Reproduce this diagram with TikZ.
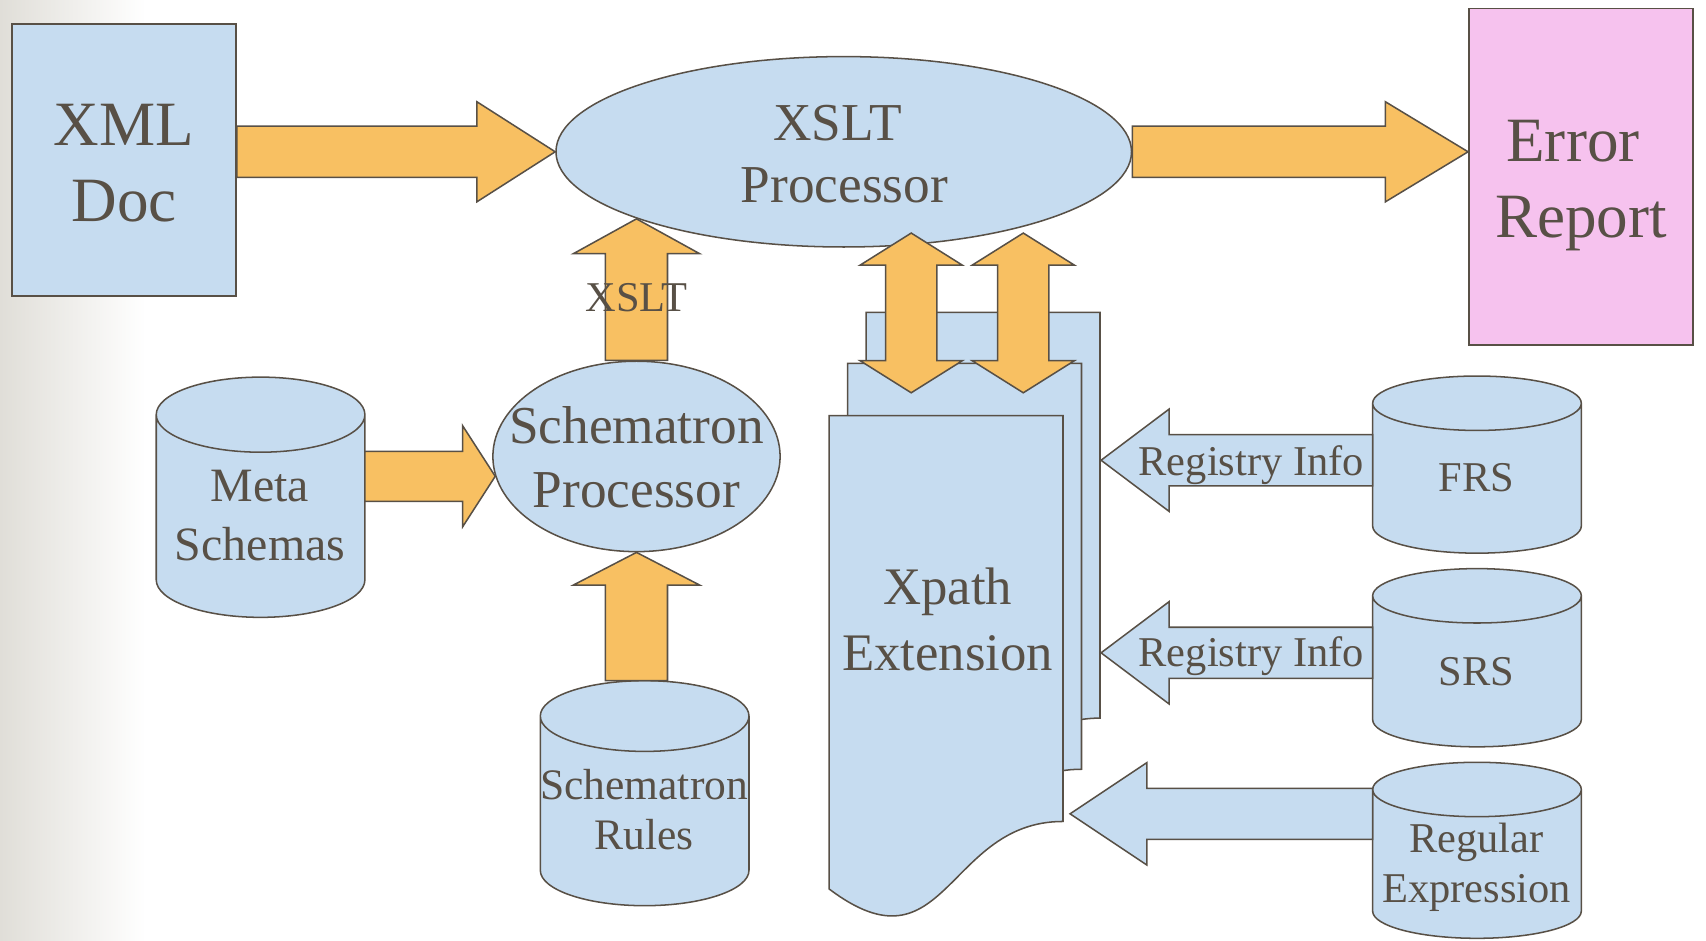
\documentclass[tikz,border=0pt]{standalone}
\usepackage{fontspec}
\setmainfont{Liberation Serif}
\usetikzlibrary{calc,shapes.geometric}

\definecolor{ink}{RGB}{88,80,70}
\definecolor{boxblue}{RGB}{198,220,240}
\definecolor{flow}{RGB}{248,192,98}
\definecolor{errpink}{RGB}{246,194,238}
\definecolor{edgegray}{RGB}{224,222,216}

\newcommand\txtsize[2]{\fontsize{#1}{#2}\selectfont}

\tikzset{
  outline/.style={draw=ink,line width=0.7pt,line join=miter},
  panel/.style={outline,rectangle,inner sep=0pt},
  oval/.style={outline,ellipse,fill=boxblue,inner sep=0pt},
  drum/.style={rectangle,inner sep=0pt},
  drumface/.style={outline,fill=boxblue},
  sheet/.style={outline,fill=boxblue},
  flowarrow/.style={outline,fill=flow},
  infoarrow/.style={outline,fill=boxblue},
  caption/.style={text=ink,inner sep=0pt,align=center},
}

% block arrow: style, tail, tip, half body width, half head width, head length
\newcommand\fatarrow[6]{%
  \path (#2) coordinate (fa-from) (#3) coordinate (fa-to);
  \path ($(fa-to)!#6!(fa-from)$) coordinate (fa-neck);
  \draw[#1] ($(fa-from)!#4!90:(fa-to)$) -- ($(fa-neck)!#4!90:(fa-to)$)
    -- ($(fa-neck)!#5!90:(fa-to)$) -- (fa-to)
    -- ($(fa-neck)!#5!-90:(fa-to)$) -- ($(fa-neck)!#4!-90:(fa-to)$)
    -- ($(fa-from)!#4!-90:(fa-to)$) -- cycle;
}
% two-headed block arrow: style, tip a, tip b, half body, half head, head length
\newcommand\fatdouble[6]{%
  \path (#2) coordinate (fd-a) (#3) coordinate (fd-b);
  \path ($(fd-a)!#6!(fd-b)$) coordinate (fd-na) ($(fd-b)!#6!(fd-a)$) coordinate (fd-nb);
  \draw[#1] (fd-a) -- ($(fd-na)!#5!90:(fd-b)$) -- ($(fd-na)!#4!90:(fd-b)$)
    -- ($(fd-nb)!#4!90:(fd-b)$) -- ($(fd-nb)!#5!90:(fd-b)$) -- (fd-b)
    -- ($(fd-nb)!#5!-90:(fd-b)$) -- ($(fd-nb)!#4!-90:(fd-b)$)
    -- ($(fd-na)!#4!-90:(fd-b)$) -- ($(fd-na)!#5!-90:(fd-b)$) -- cycle;
}
% database drum filling the box of a named node: node, end radius
\newcommand\drumshape[2]{%
  \draw[drumface] let \p1=(#1.north west), \p2=(#1.south east), \n1={(\x2-\x1)/2} in
    (\x1,{\y1-#2}) -- (\x1,{\y2+#2})
    arc[start angle=180,end angle=360,x radius=\n1,y radius=#2]
    -- (\x2,{\y1-#2})
    arc[start angle=0,end angle=180,x radius=\n1,y radius=#2] -- cycle
    (\x1,{\y1-#2}) arc[start angle=180,end angle=360,x radius=\n1,y radius=#2];
}
% document sheet with a wavy lower edge: name, top left corner
\newcommand\docsheet[2]{%
  \coordinate (#1) at (#2);
  \draw[sheet] (#1) -- ($(#1)+(215,0)$) -- ($(#1)+(215,373)$)
    .. controls ($(#1)+(107.5,373)$) and ($(#1)+(107.5,516)$) .. ($(#1)+(0,435)$) -- cycle;
}
% trailing word space kept at the end of a centred line
\newcommand\tailspace{\kern0.25em}

\begin{document}
\begin{tikzpicture}[x=0.5pt,y=-0.5pt]
\useasboundingbox (0,0) rectangle (1568,864);
\shade[left color=edgegray,right color=white] (0,0) rectangle (134,864);

% boxes and processors
\node[panel,fill=boxblue,minimum width=103pt,minimum height=125pt] (xml) at (114,147) {};
\node[panel,fill=errpink,minimum width=103pt,minimum height=154.5pt] (err) at (1453,162.5) {};
\node[oval,minimum width=264.5pt,minimum height=87.5pt] (xslt) at (775.5,139.5) {};
\node[oval,minimum width=132pt,minimum height=87.5pt] (sp) at (585,419.5) {};

% data stores
\node[drum,minimum width=95.5pt,minimum height=110pt] (meta) at (239.5,457) {};
\node[drum,minimum width=95.5pt,minimum height=103pt] (rules) at (592.5,729) {};
\node[drum,minimum width=95.5pt,minimum height=81pt] (frs) at (1357.5,427) {};
\node[drum,minimum width=95.5pt,minimum height=81.5pt] (srs) at (1357.5,604.5) {};
\node[drum,minimum width=95.5pt,minimum height=80.5pt] (regex) at (1357.5,781.5) {};
\drumshape{meta}{17.25pt}
\drumshape{rules}{16.25pt}
\drumshape{frs}{12.5pt}
\drumshape{srs}{12.5pt}
\drumshape{regex}{12.5pt}

% stacked extension documents
\docsheet{sheetback}{796,287}
\docsheet{sheetmid}{779,334}
\docsheet{sheetfront}{762,382}

% flow arrows
\fatarrow{flowarrow}{xml.east |- xslt.west}{xslt.west}{11.75pt}{23pt}{36pt}
\fatarrow{flowarrow}{xslt.east}{err.west |- xslt.east}{11.75pt}{23pt}{38pt}
\fatarrow{flowarrow}{meta.east |- sp.188}{sp.188}{11.5pt}{23.25pt}{15pt}
\fatarrow{flowarrow}{sp.north}{sp.north |- xslt.198}{14.25pt}{29pt}{16pt}
\fatarrow{flowarrow}{sp.south |- rules.north}{sp.south}{14.25pt}{29pt}{15pt}

% links between the XSLT processor and the extension
\coordinate (linkA-top) at ($(xslt.south)+(62,-13.5)$);
\coordinate (linkA-bot) at ($(sheetback)+(41.5,74)$);
\coordinate (linkB-top) at ($(xslt.south)+(165,-13.5)$);
\coordinate (linkB-bot) at ($(sheetback)+(144.5,74)$);
\fatdouble{flowarrow}{linkA-top}{linkA-top |- linkA-bot}{11.75pt}{23.5pt}{14.75pt}
\fatdouble{flowarrow}{linkB-top}{linkB-top |- linkB-bot}{11.75pt}{23.5pt}{14.75pt}

% registry lookups
\coordinate (frs-in) at ($(sheetback)+(216,136)$);
\coordinate (srs-in) at ($(sheetback)+(216,313)$);
\coordinate (regex-in) at ($(sheetfront)+(221.5,366)$);
\fatarrow{infoarrow}{frs.west |- frs-in}{frs-in}{11.75pt}{23.5pt}{31.25pt}
\fatarrow{infoarrow}{srs.west |- srs-in}{srs-in}{11.75pt}{23.5pt}{31.25pt}
\fatarrow{infoarrow}{regex.west |- regex-in}{regex-in}{11.75pt}{23.5pt}{35.25pt}

% texts
\node[caption,font=\txtsize{29}{35}] (xml-text) at (114,155) {\strut XML\\\strut Doc};
\node[caption,font=\txtsize{29}{35}] (err-text) at (1453,169.3) {\strut Error\tailspace\\\strut Report};
\node[caption,font=\txtsize{24.5}{28.5}] (xslt-text) at (776,146) {\strut XSLT\tailspace\\\strut Processor};
\node[caption,font=\txtsize{24.5}{29.3}] (sp-text) at (585,425.6) {\strut Schematron\\\strut Processor};
\node[caption,font=\txtsize{22}{27}] (meta-text) at (239,477) {\strut Meta\\\strut Schemas};
\node[caption,font=\txtsize{20}{23}] (rules-text) at (592,748.8) {\strut Schematron\\\strut Rules};
\node[caption,font=\txtsize{24.25}{30.35}] (xpath-text) at (871,574.2) {\strut Xpath\\\strut Extension};
\node[caption,font=\txtsize{19.5}{22.75}] (regex-text) at (1357,797.6) {\strut Regular\\\strut Expression};
\node[caption,font=\txtsize{19.5}{23},anchor=base] (frs-text) at (1357,452) {FRS};
\node[caption,font=\txtsize{19.5}{23},anchor=base] (srs-text) at (1357,629.6) {SRS};
\node[caption,font=\txtsize{19.5}{23},anchor=base] (flow-text) at (585,286.5) {XSLT};
\node[caption,font=\txtsize{19.5}{23},anchor=base] (frs-info) at (1150,437) {Registry Info};
\node[caption,font=\txtsize{19.5}{23},anchor=base] (srs-info) at (1150,613) {Registry Info};
\end{tikzpicture}
\end{document}
